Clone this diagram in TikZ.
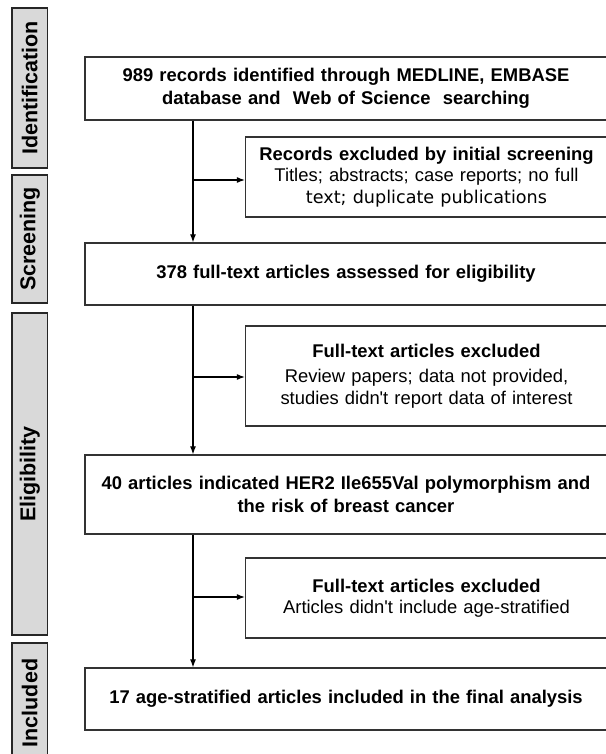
\documentclass[tikz,border=0pt]{standalone}
\usepackage{fontspec}
\setmainfont{Liberation Sans}
\newfontfamily\dejavu{DejaVu Sans}
\usetikzlibrary{arrows.meta, positioning}

\tikzset{
    mainbox/.style = {draw=black!80, line width=1.3pt, minimum width=522pt,
        text width=515pt, align=center, inner sep=0pt,
        font=\bfseries\fontsize{18.4}{23}\selectfont},
    sidebox/.style = {draw=black!80, line width=1.3pt, minimum width=362pt,
        text width=358pt, align=center, inner sep=0pt,
        font=\fontsize{18.4}{21.5}\selectfont},
    stage/.style = {draw=black!85, fill=black!15, line width=1.4pt, rotate=90,
        minimum height=35.5pt, inner sep=0pt,
        font=\bfseries\fontsize{21.5}{24}\selectfont},
    flow/.style = {-{Latex[length=8pt,width=6pt]}, line width=1.1pt}
}

\begin{document}
\begin{tikzpicture}[x=1pt, y=-1pt]
    \useasboundingbox (0,0) rectangle (605,754);

    % stage labels
    \node (id)   [stage, minimum width=160pt] at (29.75,88)  {Identification};
    \node (scr)  [stage, minimum width=128pt] at (29.75,239) {Screening};
    \node (elig) [stage, minimum width=322pt] at (29.75,474) {Eligibility};
    \node (inc)  [stage, minimum width=120pt] at (29.75,703) {Included};

    % main flow
    \node (m1) [mainbox, minimum height=63pt] at (346,88.5)
        {989 records identified through MEDLINE, EMBASE\\database and~~Web of Science~~searching};
    \node (m2) [mainbox, minimum height=62pt] at (346,274)
        {378 full-text articles assessed for eligibility};
    \node (m3) [mainbox, minimum height=79pt] at (346,494.5)
        {40 articles indicated HER2 Ile655Val polymorphism and\\the risk of breast cancer};
    \node (m4) [mainbox, minimum height=62pt] at (346,699)
        {17 age-stratified articles included in the final analysis};

    % exclusions
    \node (s1) [sidebox, minimum height=80pt] at (426.5,177)
        {\textbf{Records excluded by initial screening}\\Titles; abstracts; case reports; no full\\{\dejavu\fontsize{17.6}{21.5}\selectfont text; duplicate publications}};
    \node (s2) [sidebox, minimum height=100pt] at (426.5,376)
        {\textbf{Full-text articles excluded}\\[4pt]Review papers; data not provided,\\studies didn\textquotesingle t report data of interest};
    \node (s3) [sidebox, minimum height=80pt] at (426.5,598)
        {\textbf{Full-text articles excluded}\\Articles didn\textquotesingle t include age-stratified};

    \coordinate (t1) at (193,180);
    \coordinate (t2) at (193,377);
    \coordinate (t3) at (193,597);

    \draw [flow] (m1.south -| t1) -- (m2.north -| t1);
    \draw [flow] (t1) -- (t1 -| s1.west);
    \draw [flow] (m2.south -| t2) -- (m3.north -| t2);
    \draw [flow] (t2) -- (t2 -| s2.west);
    \draw [flow] (m3.south -| t3) -- (m4.north -| t3);
    \draw [flow] (t3) -- (t3 -| s3.west);
\end{tikzpicture}
\end{document}
